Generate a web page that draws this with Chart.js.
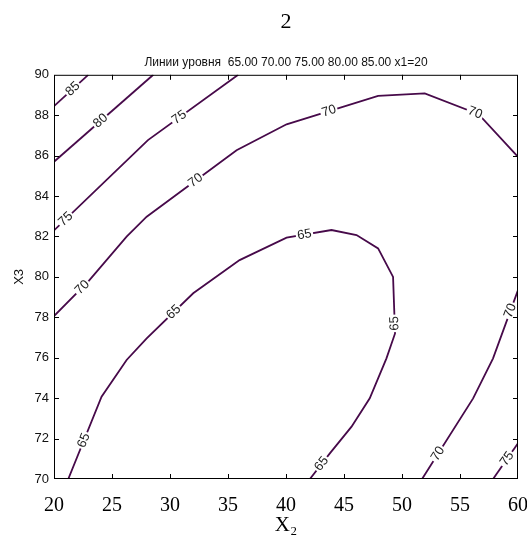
<!DOCTYPE html>
<html>
<head>
<meta charset="utf-8">
<script src="https://cdn.jsdelivr.net/npm/chart.js@4/dist/chart.umd.min.js"></script>
<style>
    html, body { margin: 0; padding: 0; background: #fff; }
    #wrap { width: 527px; height: 541px; }
</style>
</head>
<body>
<div id="wrap"><canvas id="chart"></canvas></div>
<script>
(function () {
    'use strict';

    // contour lines, [x2, x3]
    var level85 = [[20, 88.45], [22.95, 90]],
        level80 = [[20, 85.7], [28.56, 90]],
        level75Upper = [[20, 82.3], [28.1, 86.77], [35.88, 90]],
        level70Upper = [
            [20, 78.06], [23, 79.8], [26.26, 81.99], [27.99, 82.98], [35.74, 86.27],
            [40.05, 87.55], [47.94, 88.96], [51.96, 89.08], [56.6, 88.05], [60, 85.94]
        ],
        level65 = [
            [21.23, 70], [24.1, 74.07], [26.26, 75.89], [27.99, 76.96], [32.0, 79.19],
            [36.0, 80.83], [40.05, 81.94], [43.92, 82.32], [46.08, 82.07], [47.94, 81.41],
            [49.23, 80.0], [49.4, 77.2], [48.66, 75.97], [47.22, 73.99], [45.65, 72.59],
            [43.78, 71.27], [42.06, 70]
        ],
        level70Lower = [[51.73, 70], [56.13, 73.99], [57.85, 75.97], [60, 79.35]],
        level75Lower = [[57.85, 70], [60, 71.77]];

    var contourSeries = [level85, level80, level75Upper, level70Upper, level65, level70Lower, level75Lower];

    // inline labels: [series index, x2, x3, text]
    var contourLabels = [
        [0, 21.66, 89.28, '85'],
        [1, 23.96, 87.76, '80'],
        [2, 30.86, 87.85, '75'],
        [2, 20.8, 82.98, '75'],
        [3, 22.5, 79.45, '70'],
        [3, 32.3, 84.7, '70'],
        [3, 43.63, 88.34, '70'],
        [3, 56.27, 88.09, '70'],
        [4, 22.5, 71.93, '65'],
        [4, 30.42, 78.2, '65'],
        [4, 41.6, 82.07, '65'],
        [4, 49.47, 77.7, '65'],
        [4, 43.2, 70.7, '65'],
        [5, 53.26, 71.19, '70'],
        [5, 59.57, 78.28, '70'],
        [6, 59.0, 71.02, '75']
    ];

    var xTicks = [20, 25, 30, 35, 40, 45, 50, 55, 60],
        yTicks = [70, 72, 74, 76, 78, 80, 82, 84, 86, 88, 90];

    var lineColor = '#470a4a',
        sans = '"Liberation Sans", Arial, sans-serif',
        serif = '"Liberation Serif", "Times New Roman", serif';

    var nearestOnLine = function (pts, px, py) {
            var best = null;

            for (var i = 0; i < pts.length - 1; i++) {
                var a = pts[i], b = pts[i + 1],
                    dx = b.x - a.x, dy = b.y - a.y,
                    t = ((px - a.x) * dx + (py - a.y) * dy) / (dx * dx + dy * dy);

                t = Math.max(0, Math.min(1, t));

                var qx = a.x + t * dx, qy = a.y + t * dy,
                    d = (qx - px) * (qx - px) + (qy - py) * (qy - py);

                if (!best || d < best.d) {
                    best = { x: qx, y: qy, d: d, angle: Math.atan2(dy, dx) };
                }
            }

            // keep the text upright; near-vertical reads bottom to top
            while (best.angle > Math.PI * 0.4) { best.angle -= Math.PI; }
            while (best.angle < -Math.PI * 0.6) { best.angle += Math.PI; }

            return best;
        },

        labelPlugin = {
            id: 'contourLabels',
            afterDatasetsDraw: function (chart) {
                var ctx = chart.ctx,
                    xs = chart.scales.x,
                    ys = chart.scales.y;

                contourLabels.forEach(function (lab) {
                    var pts = chart.data.datasets[lab[0]].data.map(function (p) {
                            return { x: xs.getPixelForValue(p.x), y: ys.getPixelForValue(p.y) };
                        }),
                        spot = nearestOnLine(pts, xs.getPixelForValue(lab[1]), ys.getPixelForValue(lab[2])),
                        w;

                    ctx.save();
                    ctx.translate(spot.x, spot.y);
                    ctx.rotate(spot.angle);
                    ctx.font = '13px ' + sans;
                    w = ctx.measureText(lab[3]).width;
                    ctx.fillStyle = '#fff';
                    ctx.fillRect(-w / 2 - 1.5, -4, w + 3, 8);
                    ctx.fillStyle = '#222';
                    ctx.textAlign = 'center';
                    ctx.textBaseline = 'middle';
                    ctx.fillText(lab[3], 0, 0);
                    ctx.restore();
                });
            }
        },

        framePlugin = {
            id: 'frame',
            afterDraw: function (chart) {
                var ctx = chart.ctx,
                    area = chart.chartArea,
                    xs = chart.scales.x,
                    ys = chart.scales.y,
                    len = 5;

                ctx.save();
                ctx.strokeStyle = '#000';
                ctx.lineWidth = 1;
                ctx.strokeRect(area.left + 0.5, area.top + 0.5, area.right - area.left - 1, area.bottom - area.top - 1);

                ctx.beginPath();
                xTicks.slice(1, -1).forEach(function (v) {
                    var px = Math.round(xs.getPixelForValue(v)) + 0.5;
                    ctx.moveTo(px, area.bottom);
                    ctx.lineTo(px, area.bottom - len);
                    ctx.moveTo(px, area.top);
                    ctx.lineTo(px, area.top + len);
                });
                yTicks.slice(1, -1).forEach(function (v) {
                    var py = Math.round(ys.getPixelForValue(v)) + 0.5;
                    ctx.moveTo(area.left, py);
                    ctx.lineTo(area.left + len, py);
                    ctx.moveTo(area.right, py);
                    ctx.lineTo(area.right - len, py);
                });
                ctx.stroke();
                ctx.restore();
            }
        };

    var datasets = contourSeries.map(function (series) {
        return {
            data: series.map(function (p) { return { x: p[0], y: p[1] }; }),
            showLine: true,
            tension: 0,
            borderColor: lineColor,
            borderWidth: 1.8,
            pointRadius: 0,
            fill: false
        };
    });

    new Chart(document.getElementById('chart').getContext('2d'), {
        type: 'scatter',
        data: { datasets: datasets },
        options: {
            responsive: true,
            maintainAspectRatio: false,
            animation: false,
            devicePixelRatio: 1,
            layout: { padding: { left: 0, right: 9, top: 0, bottom: 0 } },
            plugins: {
                legend: { display: false },
                tooltip: { enabled: false },
                title: {
                    display: true,
                    text: '2',
                    fullSize: false,
                    color: '#000',
                    font: { family: serif, size: 22, weight: 'normal' },
                    padding: { top: 9, bottom: 0 }
                },
                subtitle: {
                    display: true,
                    text: 'Линии уровня  65.00 70.00 75.00 80.00 85.00 x1=20',
                    fullSize: false,
                    color: '#111',
                    font: { family: sans, size: 12 },
                    padding: { top: 20, bottom: 5 }
                }
            },
            scales: {
                x: {
                    type: 'linear',
                    min: 20,
                    max: 60,
                    afterFit: function (scale) {
                        scale.height = 62;
                        scale.paddingLeft = 0;
                        scale.paddingRight = 0;
                    },
                    afterBuildTicks: function (scale) {
                        scale.ticks = xTicks.map(function (v) { return { value: v }; });
                    },
                    grid: { display: false, drawTicks: false },
                    border: { display: false },
                    ticks: {
                        padding: 15,
                        maxRotation: 0,
                        color: '#000',
                        font: { family: serif, size: 20 }
                    },
                    title: {
                        display: true,
                        text: 'X₂',
                        color: '#000',
                        font: { family: serif, size: 21 },
                        padding: { top: 0, bottom: 3 }
                    }
                },
                y: {
                    type: 'linear',
                    min: 70,
                    max: 90,
                    afterFit: function (scale) {
                        scale.width = 54;
                        scale.paddingTop = 0;
                        scale.paddingBottom = 0;
                    },
                    afterBuildTicks: function (scale) {
                        scale.ticks = yTicks.map(function (v) { return { value: v }; });
                    },
                    grid: { display: false, drawTicks: false },
                    border: { display: false },
                    ticks: {
                        padding: 5,
                        color: '#111',
                        font: { family: sans, size: 13 }
                    },
                    title: {
                        display: true,
                        text: 'X3',
                        color: '#111',
                        font: { family: sans, size: 13 },
                        padding: { top: 12, bottom: 0 }
                    }
                }
            }
        },
        plugins: [labelPlugin, framePlugin]
    });
}());
</script>
</body>
</html>
